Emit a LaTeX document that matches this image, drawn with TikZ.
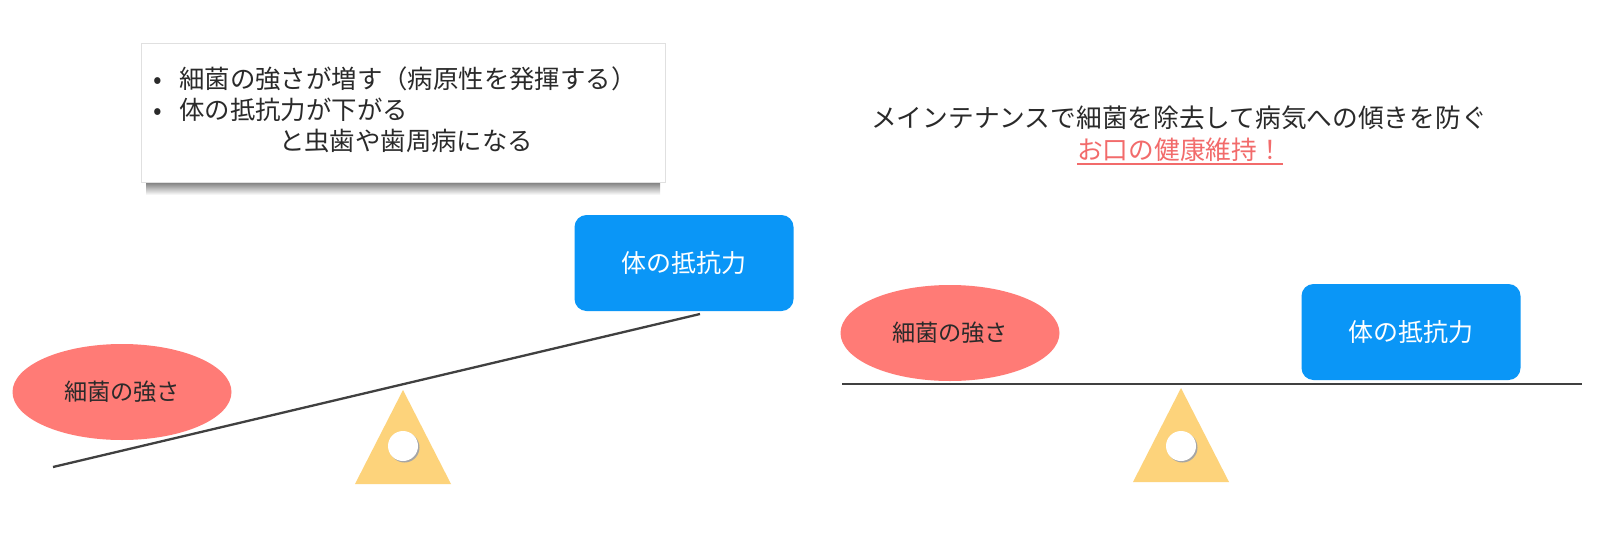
\documentclass[tikz,border=0pt]{standalone}
\usepackage{fontspec}
\newfontfamily\jp{Noto Sans CJK JP}
\usetikzlibrary{shapes.geometric,shadings}
\definecolor{salmon}{HTML}{FF7B76}
\definecolor{bblue}{HTML}{0A96F7}
\definecolor{tri}{HTML}{FDD37B}
\definecolor{beam}{HTML}{404040}
\definecolor{txt}{HTML}{2A2A2A}
\definecolor{redtxt}{HTML}{F26B6B}
\begin{document}
\begin{tikzpicture}[x=1pt,y=-1pt,
  oval/.style={ellipse, fill=salmon, inner sep=0pt, minimum width=219pt, minimum height=96pt,
    text=txt, font=\jp\fontsize{23.2}{23.2}\selectfont},
  bluebox/.style={rectangle, rounded corners=12pt, fill=bblue, inner sep=0pt,
    minimum width=219pt, minimum height=96pt, text=white, font=\jp\fontsize{25}{25}\selectfont},
  beamline/.style={draw=beam, line width=2.3pt},
  fulcrum/.style={fill=tri},
  hole/.style={fill=white},
  boxtext/.style={inner sep=0pt, text=txt, font=\jp\fontsize{25.4}{25.4}\selectfont},
  titletext/.style={inner sep=0pt, text=txt, font=\jp\fontsize{25.7}{25.7}\selectfont},
]
\useasboundingbox (0,0) rectangle (1600,549);
\fill[white] (0,0) rectangle (1600,549);

% ---------- left panel ----------
% note box with shadow
\shade[top color=black!60, bottom color=white] (146,180) rectangle (660,195);
\fill[white, draw=black!12, line width=0.8pt] (141,43) rectangle (665,182);
\node[boxtext, anchor=base west] (b1) at (153,88) {•};
\node[boxtext, anchor=base west] (l1) at (179,88) {細菌の強さが増す（病原性を発揮する）};
\node[boxtext, anchor=base west] (b2) at (153,119) {•};
\node[boxtext, anchor=base west] (l2) at (179,119) {体の抵抗力が下がる};
\node[boxtext, anchor=base] (l3) at (406,150) {と虫歯や歯周病になる};

% seesaw
\coordinate (lb1) at (53,467);
\coordinate (lb2) at (700,314);
\fill[fulcrum] (403,390) -- (451,484) -- (355,484) -- cycle;
\fill[black!35] (404.5,447.5) circle (15);
\fill[hole] (403,446) circle (15);
\draw[beamline] (lb1) -- (lb2);
\node[oval] (lov) at (122,392) {細菌の強さ};
\node[bluebox] (lbx) at (684,263) {体の抵抗力};

% ---------- right panel ----------
\node[titletext] (t1) at (1179,118) {メインテナンスで細菌を除去して病気への傾きを防ぐ};
\node[titletext, text=redtxt] (t2) at (1180,150) {お口の健康維持！};
\draw[redtxt, line width=1.2pt] ([yshift=-2pt]t2.south west) -- ([yshift=-2pt]t2.south east);

\coordinate (rb1) at (842,384);
\coordinate (rb2) at (1582,384);
\fill[fulcrum] (1181,388) -- (1229,482) -- (1133,482) -- cycle;
\fill[black!35] (1182.5,447.5) circle (15);
\fill[hole] (1181,446) circle (15);
\node[oval] (rov) at (950,333) {細菌の強さ};
\node[bluebox] (rbx) at (1411,332) {体の抵抗力};
\draw[beamline] (rb1) -- (rb2);
\end{tikzpicture}
\end{document}
